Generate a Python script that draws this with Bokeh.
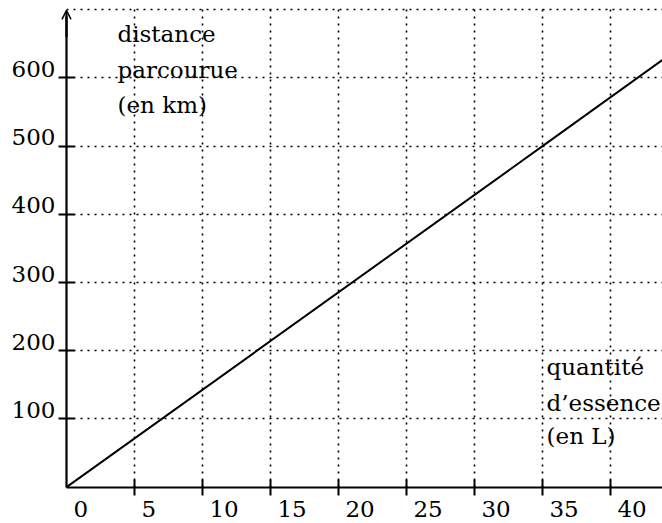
from bokeh.plotting import figure
from bokeh.models import (ColumnDataSource, LabelSet, FixedTicker, Range1d, Arrow,
                          OpenHead, LinearAxis)
from bokeh.core.properties import value
from bokeh.embed import file_html
from bokeh.resources import INLINE

# ---- data ----
quantite = [0, 35, 44]          # L
distance = [0, 500, 629]        # km
x_ticks = [5, 10, 15, 20, 25, 30, 35, 40]
x_label_pos = [0, 5, 10, 15, 20, 25, 30, 35, 40]
x_tick_labels = ["0", "5", "10", "15", "20", "25", "30", "35", "40"]
y_ticks = [100, 200, 300, 400, 500, 600]
y_tick_labels = ["100", "200", "300", "400", "500", "600"]
y_grid = [100, 200, 300, 400, 500, 600, 700]
y_title_lines = ["distance", "parcourue", "(en km)"]
x_title_lines = ["quantité", "d’essence", "(en L)"]

FONT = value("DejaVu Serif")
FS = value("23px")

X0, X1 = -4.853, 43.824
Y0, Y1 = -53.3, 713.6

p = figure(width=662, height=523, output_backend="svg", toolbar_location=None,
           x_range=Range1d(X0, X1), y_range=Range1d(Y0, Y1),
           x_axis_location=None, y_axis_location=None,
           min_border_left=0, min_border_right=0, min_border_top=0, min_border_bottom=0)
p.outline_line_color = None
p.background_fill_color = "white"
p.border_fill_color = "white"

# grid
p.xgrid.ticker = FixedTicker(ticks=x_ticks)
p.ygrid.ticker = FixedTicker(ticks=y_grid)
for g in (p.xgrid[0], p.ygrid[0]):
    g.grid_line_color = "black"
    g.grid_line_dash = "2 5"
    g.grid_line_width = 1.6
p.xgrid[0].cross_bounds = (0, 700)
p.ygrid[0].cross_bounds = (0, X1)

# axes drawn at the origin
xax = LinearAxis(fixed_location=0, ticker=FixedTicker(ticks=x_ticks), bounds=(0, X1))
yax = LinearAxis(fixed_location=0, ticker=FixedTicker(ticks=y_ticks), bounds=(0, 690))
for ax in (xax, yax):
    ax.minor_tick_line_color = None
    ax.major_tick_in = 8
    ax.major_tick_out = 8
    ax.major_tick_line_width = 2
    ax.major_tick_line_color = "black"
    ax.axis_line_width = 2.2
    ax.axis_line_color = "black"
    ax.major_label_text_color = None
p.add_layout(xax, "below")
p.add_layout(yax, "left")

# arrow on the y axis
p.add_layout(Arrow(end=OpenHead(size=9, line_width=1.5, line_color="black"),
                   x_start=0, y_start=660, x_end=0, y_end=699,
                   line_width=2.2, line_color="black"))

# data line
src = ColumnDataSource(dict(x=quantite, y=distance))
p.line("x", "y", source=src, line_width=2, line_color="black")

# tick labels
xs = ColumnDataSource(dict(x=x_label_pos, y=[0] * len(x_label_pos), t=x_tick_labels))
p.add_layout(LabelSet(x="x", y="y", text="t", source=xs, x_offset=7, y_offset=-29.5,
                      text_align="left", text_baseline="alphabetic",
                      text_font=FONT, text_font_size=FS, text_color="black"))
ys = ColumnDataSource(dict(x=[0] * len(y_ticks), y=y_ticks, t=y_tick_labels))
p.add_layout(LabelSet(x="x", y="y", text="t", source=ys, x_offset=-11, y_offset=1,
                      text_align="right", text_baseline="alphabetic",
                      text_font=FONT, text_font_size=FS, text_color="black"))

# axis titles
yt = ColumnDataSource(dict(x=[3.75] * 3, y=[652.5, 599.7, 548], t=y_title_lines))
p.add_layout(LabelSet(x="x", y="y", text="t", source=yt, text_align="left",
                      text_baseline="alphabetic", text_font=FONT, text_font_size=FS,
                      text_color="black"))
xt = ColumnDataSource(dict(x=[35.3] * 3, y=[163.8, 111, 64], t=x_title_lines))
p.add_layout(LabelSet(x="x", y="y", text="t", source=xt, text_align="left",
                      text_baseline="alphabetic", text_font=FONT, text_font_size=FS,
                      text_color="black"))

open("out.html", "w").write(file_html(p, INLINE))
